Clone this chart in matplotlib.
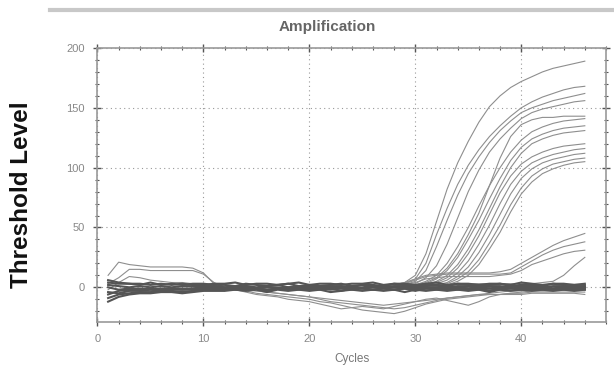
import matplotlib
matplotlib.use("Agg")
import matplotlib.pyplot as plt
from matplotlib.ticker import MultipleLocator

plt.rcParams['font.family'] = ['Liberation Sans', 'DejaVu Sans']

# ---------------- data ----------------
base_cycles = list(range(1, 47))
baseline_1 = [-9,-6,-5,-4,-4,-3,-3,-4,-3,-2,-2,-1,-2,-1,-1,-3,-1,-1,-2,-1,-2,-1,-3,-1,-1,-2,-1,-2,-1,-3,-1,-1,-2,-1,-2,-1,-3,-1,-1,-1,-2,-1,-2,-1,-2,-1]
baseline_2 = [4,3,3,2,4,2,3,2,3,3,2,2,1,3,2,1,2,3,1,2,1,2,3,1,2,2,1,3,2,1,2,2,1,3,2,1,2,3,1,2,2,1,3,2,2,2]
baseline_3 = [-6,-3,-2,-1,-2,-1,-1,-2,-1,0,0,-1,0,1,-1,0,0,-1,0,1,1,0,0,-1,0,1,1,0,0,-1,0,0,1,0,-1,0,-1,0,1,1,0,0,-1,0,1,0]
baseline_4 = [2,1,0,1,0,1,0,1,1,1,1,0,1,1,0,1,2,0,1,1,0,1,1,0,2,1,0,1,1,0,1,2,0,1,1,0,1,1,0,2,1,0,1,1,0,1]
baseline_5 = [-12,-8,-6,-5,-5,-4,-4,-5,-4,-3,-3,-3,-2,-3,-2,-4,-2,-3,-2,-3,-2,-4,-3,-2,-3,-2,-3,-2,-4,-2,-3,-2,-3,-2,-3,-2,-4,-2,-3,-2,-3,-2,-3,-2,-3,-2]
baseline_6 = [0,-2,-1,-2,-1,-2,-1,-1,-1,0,-1,0,-1,0,-1,0,-1,0,-1,0,-1,0,-1,0,-1,0,-1,0,-1,0,-1,0,-1,0,-1,0,-1,0,-1,0,-1,0,-1,0,-1,0]
baseline_7 = [6,4,3,3,2,3,2,3,2,2,3,3,4,2,3,3,2,3,4,2,3,3,2,3,3,4,2,3,3,2,3,4,2,3,3,2,3,3,2,4,3,2,3,3,2,3]
baseline_8 = [-4,-5,-3,-3,-2,-3,-2,-2,-2,-1,-1,-2,-1,-2,-1,-2,-1,-2,-1,-2,-1,-2,-1,-2,-1,-2,-1,-2,-1,-2,-1,-2,-1,-2,-1,-2,-1,-2,-1,-2,-1,-2,-1,-2,-1,-2]
baselines = [baseline_1, baseline_2, baseline_3, baseline_4,
             baseline_5, baseline_6, baseline_7, baseline_8]

bump_cycles = list(range(1, 13))
bump_1 = [10, 21, 19, 18, 17, 17, 17, 17, 16, 12, 3, 0]
bump_2 = [3, 8, 15, 15, 14, 14, 14, 14, 14, 11, 4, 0]
bump_3 = [-2, 4, 9, 8, 6, 5, 4, 4, 3, 2, 1, 0]
bumps = [bump_1, bump_2, bump_3]

sag_cycles = list(range(11, 47))
sag_1 = [0,-1,-2,-3,-5,-6,-7,-8,-9,-10,-12,-13,-15,-17,-19,-20,-21,-22,-20,-17,-14,-12,-10,-9,-8,-7,-6,-6,-5,-5,-4,-4,-4,-4,-4,-4]
sag_2 = [0,-1,-2,-4,-6,-7,-8,-10,-11,-12,-14,-16,-18,-17,-16,-17,-18,-16,-14,-12,-10,-9,-11,-13,-15,-12,-8,-6,-5,-4,-3,-3,-3,-2,-2,-2]
sag_3 = [0,0,-1,-2,-3,-4,-5,-6,-7,-8,-9,-10,-11,-12,-13,-14,-15,-14,-13,-12,-11,-10,-9,-8,-7,-6,-6,-6,-6,-6,-5,-5,-5,-5,-5,-6]
sag_4 = [0,-1,-1,-2,-3,-4,-5,-6,-7,-8,-10,-12,-13,-14,-15,-16,-17,-18,-17,-15,-13,-11,-9,-8,-7,-6,-5,-4,-3,-3,-2,-2,-2,-1,-1,-1]
sags = [sag_1, sag_2, sag_3, sag_4]

amp_cycles = list(range(26, 47))
amp_1 = [0,1,2,4,10,28,55,82,104,122,138,151,160,167,172,176,180,183,185,187,189]
amp_2 = [0,1,1,3,7,20,44,66,86,102,115,126,135,143,150,155,159,162,165,167,168]
amp_3 = [0,0,1,2,5,14,34,56,77,95,109,121,131,139,146,150,153,156,158,160,162]
amp_4 = [0,0,1,1,3,8,18,36,58,80,98,113,124,133,141,146,149,151,153,155,156]
amp_5 = [0,0,0,1,2,4,8,16,28,44,62,85,108,126,136,140,142,142,143,143,143]
amp_6 = [0,0,0,1,2,5,10,20,34,50,68,85,100,113,123,130,134,137,139,140,141]
amp_7 = [0,0,0,0,1,3,7,14,25,40,56,74,91,106,117,124,128,131,133,134,135]
amp_8 = [0,0,0,0,1,2,5,10,19,32,48,66,84,100,112,120,124,127,129,130,131]
amp_9 = [0,0,0,0,1,2,4,8,16,28,43,61,79,93,103,109,113,116,118,119,120]
amp_10 = [0,0,0,0,0,1,3,6,12,22,36,52,70,86,97,104,108,111,113,115,116]
amp_11 = [0,0,0,0,0,1,2,4,9,17,29,44,61,78,91,99,104,107,109,111,112]
amp_12 = [0,0,0,0,0,1,2,3,7,13,23,37,52,69,83,93,99,103,105,107,108]
amp_13 = [0,0,0,0,0,0,1,2,5,10,19,32,46,63,78,88,95,99,102,104,105]
amps = [amp_1, amp_2, amp_3, amp_4, amp_5, amp_6, amp_7,
        amp_8, amp_9, amp_10, amp_11, amp_12, amp_13]

low_1 = [0,1,2,4,7,10,11,12,12,12,12,12,13,15,20,25,30,35,39,42,45]
low_2 = [0,0,1,3,6,9,10,11,11,11,11,11,11,12,17,22,27,31,34,36,38]
low_3 = [0,0,1,2,4,7,8,9,9,9,9,9,10,11,14,19,22,25,28,30,31]
low_4 = [0,0,0,1,1,2,2,2,2,3,3,3,3,3,3,3,4,5,10,18,25]
lows = [low_1, low_2, low_3, low_4]

x_ticks = [0, 10, 20, 30, 40]
y_ticks = [0, 50, 100, 150, 200]

# ---------------- figure ----------------
fig = plt.figure(figsize=(6.14, 3.66), dpi=100)
ax = fig.add_axes([97.5/614, 44/366, (606-97.5)/614, (322-48)/366])

line_c = '#8e8e8e'
band_c = '#555555'

for s in sags:
    ax.plot(sag_cycles, s, color=line_c, lw=0.8)
for s in bumps:
    ax.plot(bump_cycles, s, color=line_c, lw=0.8)
for s in lows:
    ax.plot(amp_cycles, s, color=line_c, lw=0.8)
for s in amps:
    ax.plot(amp_cycles, s, color=line_c, lw=0.8)
for s in baselines:
    ax.plot(base_cycles, s, color=band_c, lw=1.5)

ax.set_xlim(0, 48)
ax.set_ylim(-29, 200)
ax.set_xticks(x_ticks)
ax.set_yticks(y_ticks)
ax.xaxis.set_minor_locator(MultipleLocator(2))
ax.yaxis.set_minor_locator(MultipleLocator(10))
ax.tick_params(which='major', direction='inout', length=6, width=1.0,
               colors='#555555', labelcolor='#888888', labelsize=8,
               top=True, right=True, pad=6)
ax.tick_params(which='minor', direction='inout', length=3, width=0.8,
               colors='#555555', top=True, right=True)
ax.grid(True, which='major', color='#999999', linestyle=(0, (1, 3)), lw=0.8)
for sp in ax.spines.values():
    sp.set_color('#9a9a9a')
    sp.set_linewidth(1.2)

ax.set_xlabel('Cycles', fontsize=8.5, color='#777777', labelpad=6)

fig.text(327/614, 1 - 27/366, 'Amplification', ha='center', va='center',
         fontsize=11, fontweight='bold', color='#666666')
fig.text(22/614, 1 - 195/366, 'Threshold Level', ha='center', va='center',
         rotation=90, fontsize=17.5, fontweight='bold', color='#111111')

fig.add_artist(plt.Line2D([50/614, 1.0], [1 - 10/366, 1 - 10/366],
                          transform=fig.transFigure, color='#c8c8c8', lw=3))

fig.savefig('out.png', dpi=100, facecolor='white')
